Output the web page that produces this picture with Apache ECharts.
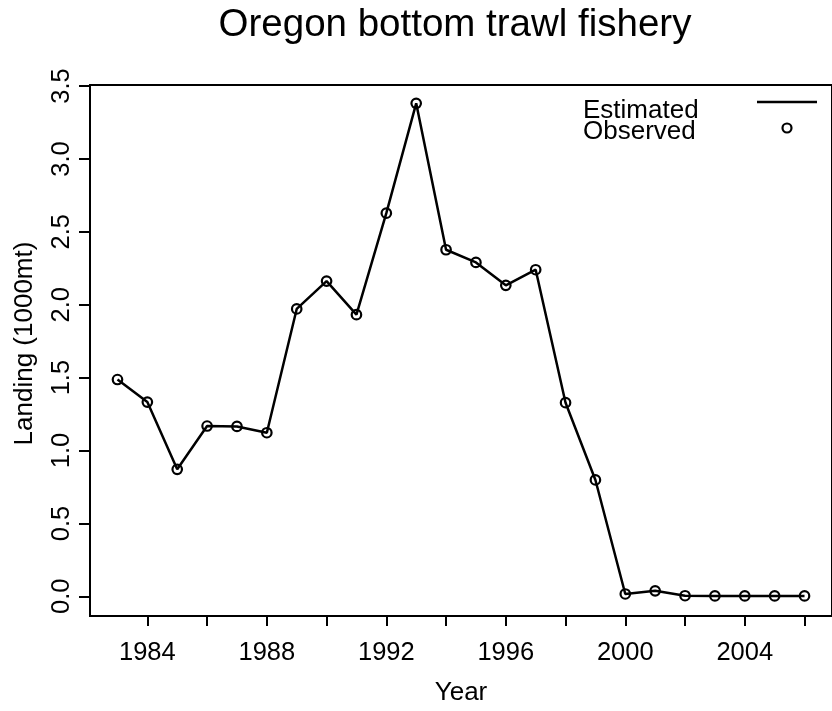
<!DOCTYPE html>
<html>
<head>
<meta charset="utf-8">
<script src="https://cdn.jsdelivr.net/npm/echarts@6/dist/echarts.min.js"></script>
<style>
  html, body { margin: 0; padding: 0; background: #fff; }
  #chart { width: 832px; height: 711px; }
</style>
</head>
<body>
<div id="chart"></div>
<script>
// data
var years = [1983, 1984, 1985, 1986, 1987, 1988, 1989, 1990, 1991, 1992, 1993, 1994,
             1995, 1996, 1997, 1998, 1999, 2000, 2001, 2002, 2003, 2004, 2005, 2006];
var observed = [1.487, 1.332, 0.871, 1.168, 1.165, 1.122, 1.971, 2.162, 1.932, 2.628, 3.381, 2.377,
                2.290, 2.133, 2.240, 1.328, 0.798, 0.016, 0.038, 0.004, 0.003, 0.003, 0.003, 0.003];
var estimated = [1.487, 1.332, 0.871, 1.168, 1.165, 1.122, 1.971, 2.162, 1.932, 2.628, 3.381, 2.377,
                 2.290, 2.133, 2.240, 1.328, 0.798, 0.016, 0.038, 0.004, 0.003, 0.003, 0.003, 0.003];
var xTicks = [1984, 1986, 1988, 1990, 1992, 1994, 1996, 1998, 2000, 2002, 2004, 2006];
var xLabels = [1984, 1988, 1992, 1996, 2000, 2004];
var yTicks = [0, 0.5, 1, 1.5, 2, 2.5, 3, 3.5];

var font = 'Liberation Sans, Arial, Helvetica, sans-serif';
var chart = echarts.init(document.getElementById('chart'));

// pair each year with its value
function pairs(vals) {
  return years.map(function (y, i) { return [y, vals[i]]; });
}

chart.setOption({
  backgroundColor: '#fff',
  animation: false,
  title: {
    text: 'Oregon bottom trawl fishery',
    left: 455,
    top: 6,
    padding: 0,
    textAlign: 'center',
    textStyle: { fontFamily: font, fontSize: 38.5, fontWeight: 'normal', color: '#000' }
  },
  // legend drawn by hand: text on the left, key on the right like R's legend()
  graphic: [
    { type: 'text', left: 583, top: 98,
      style: { text: 'Estimated', font: '26px ' + font, fill: '#000' } },
    { type: 'text', left: 583, top: 119,
      style: { text: 'Observed', font: '26px ' + font, fill: '#000' } },
    { type: 'line', shape: { x1: 757, y1: 102, x2: 817, y2: 102 },
      style: { stroke: '#000', lineWidth: 2.5 } },
    { type: 'circle', shape: { cx: 787, cy: 128, r: 4.5 },
      style: { fill: 'none', stroke: '#000', lineWidth: 2.2 } }
  ],
  grid: {
    left: 90, right: -8, top: 85, bottom: 94,
    show: true, borderColor: '#000', borderWidth: 2, containLabel: false
  },
  xAxis: {
    type: 'value',
    min: 1982.08,
    max: 2006.92,
    name: 'Year',
    nameLocation: 'middle',
    nameGap: 64,
    nameTextStyle: { fontFamily: font, fontSize: 26, color: '#000' },
    axisLine: { show: true, onZero: false, lineStyle: { color: '#000', width: 2 } },
    axisTick: { show: true, length: 10, lineStyle: { color: '#000', width: 2 }, customValues: xTicks },
    axisLabel: { fontFamily: font, fontSize: 25.5, color: '#000', margin: 24, customValues: xLabels,
                 formatter: function (v) { return String(v); } },
    splitLine: { show: false }
  },
  yAxis: {
    type: 'value',
    min: -0.135,
    max: 3.507,
    name: 'Landing (1000mt)',
    nameLocation: 'middle',
    nameGap: 52,
    nameTextStyle: { fontFamily: font, fontSize: 26, color: '#000', padding: [0, 0, 0, 14] },
    axisLine: { show: true, onZero: false, lineStyle: { color: '#000', width: 2 } },
    axisTick: { show: true, length: 11, lineStyle: { color: '#000', width: 2 }, customValues: yTicks },
    axisLabel: { fontFamily: font, fontSize: 25.5, color: '#000', margin: 15, rotate: 90, customValues: yTicks,
                 formatter: function (v) { return v.toFixed(1); } },
    splitLine: { show: false }
  },
  series: [
    {
      name: 'Estimated',
      type: 'line',
      data: pairs(estimated),
      symbol: 'none',
      lineStyle: { color: '#000', width: 2.5 },
      itemStyle: { color: '#000' },
      z: 2
    },
    {
      name: 'Observed',
      type: 'scatter',
      data: pairs(observed),
      symbol: 'circle',
      symbolSize: 9.5,
      itemStyle: { color: 'rgba(0,0,0,0)', borderColor: '#000', borderWidth: 2.2, opacity: 1 },
      z: 3
    }
  ]
});
</script>
</body>
</html>
